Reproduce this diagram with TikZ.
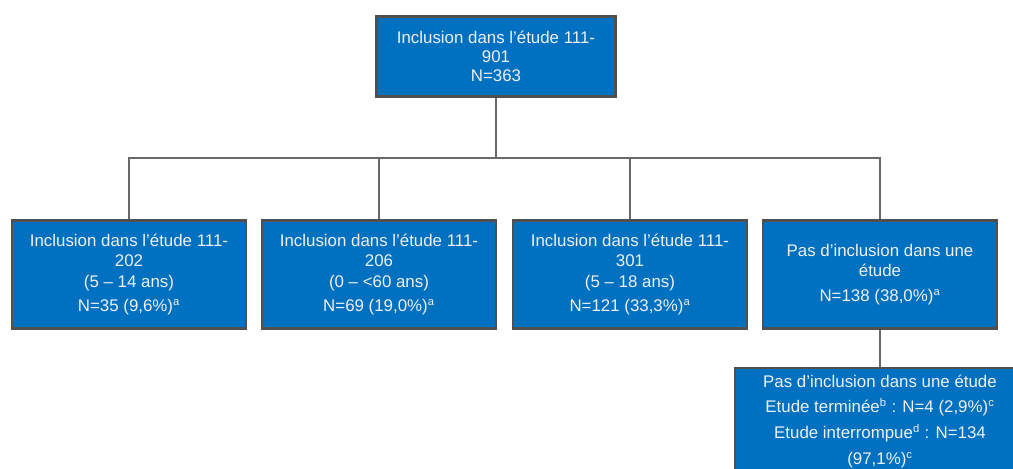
\documentclass[tikz,border=0pt]{standalone}
\usepackage{fontspec}
\setmainfont{Liberation Sans}
\definecolor{boxblue}{RGB}{0,112,192}
\definecolor{boxedge}{RGB}{80,80,80}
\definecolor{linkgray}{RGB}{105,105,105}
\definecolor{boxtext}{RGB}{240,240,240}

\begin{document}
\begin{tikzpicture}[x=0.025cm, y=-0.025cm,
  every node/.style={font=\fontsize{12}{14.5}\selectfont},
  study/.style={draw=boxedge, line width=2pt, fill=boxblue, text=boxtext,
    align=center, inner sep=2pt, minimum width=5.85cm, minimum height=2.7cm},
  link/.style={draw=linkgray, line width=0.9pt}]

\useasboundingbox (0,0) rectangle (1013,468);

\coordinate (split) at (496,158);

% top
\node[study, minimum width=5.98cm, minimum height=2cm,
  font=\fontsize{12}{13.3}\selectfont] (incl) at (496,56.5)
  {Inclusion dans l’étude 111-\\901\\N=363};

% second row
\node[study] (e202) at (129,274.5)
  {Inclusion dans l’étude 111-\\202\\(5 – 14 ans)\\[3pt]N=35 (9,6\%)\textsuperscript{a}};
\node[study] (e206) at (379,274.5)
  {Inclusion dans l’étude 111-\\206\\(0 – <60 ans)\\[3pt]N=69 (19,0\%)\textsuperscript{a}};
\node[study] (e301) at (630,274.5)
  {Inclusion dans l’étude 111-\\301\\(5 – 18 ans)\\[3pt]N=121 (33,3\%)\textsuperscript{a}};
\node[study] (nopart) at (880,274.5)
  {Pas d’inclusion dans une\\étude\\[3pt]N=138 (38,0\%)\textsuperscript{a}};

% bottom
\node[study, anchor=north, minimum width=7.25cm, minimum height=3cm,
  inner ysep=5pt, font=\fontsize{12}{18.2}\selectfont] (nopart2) at (880,366.5)
  {Pas d’inclusion dans une étude\\Etude terminée\textsuperscript{b} : N=4 (2,9\%)\textsuperscript{c}\\
   Etude interrompue\textsuperscript{d} : N=134\\(97,1\%)\textsuperscript{c}\\ \\};

\draw[link] (incl) -- (split);
\foreach \b in {e202,e206,e301,nopart}
   {
	\draw[link] (split) -| (\b);
   };
\draw[link] (nopart) -- (nopart2);
\end{tikzpicture}
\end{document}
